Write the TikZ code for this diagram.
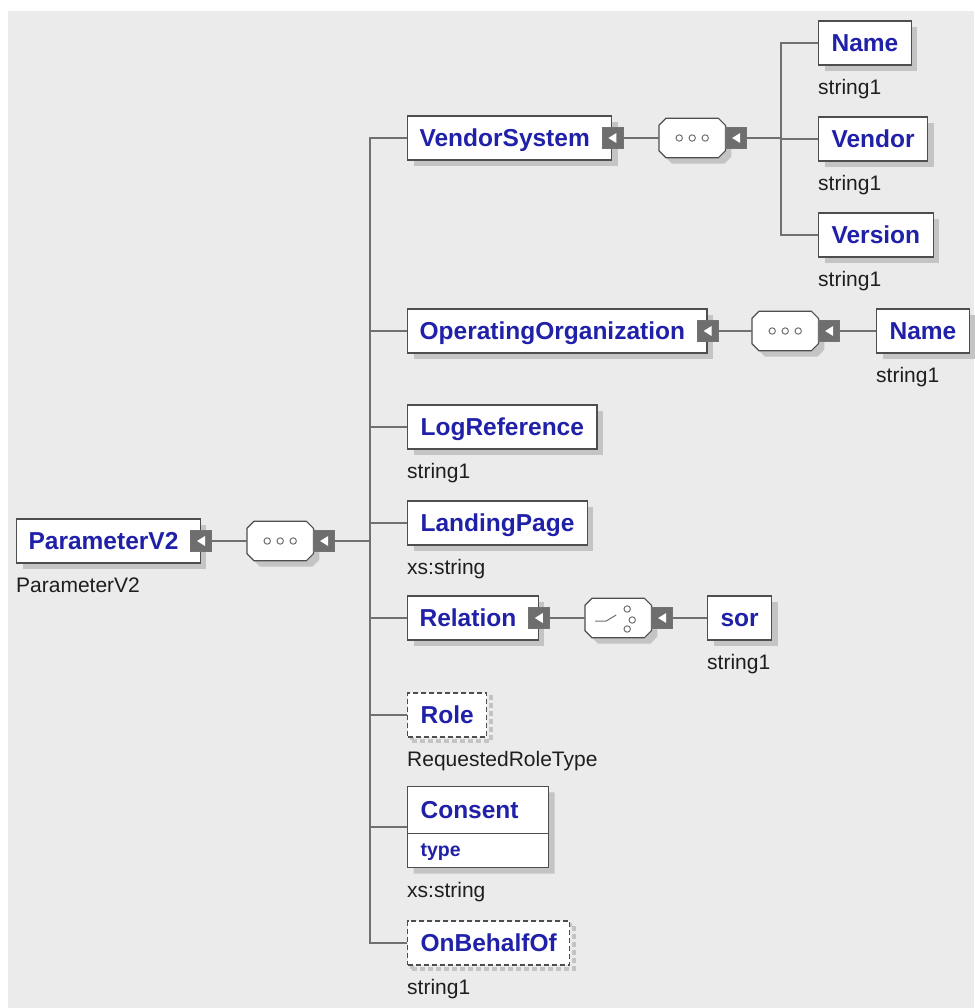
\documentclass[tikz,border=0pt]{standalone}
\usepackage{fontspec}
\setmainfont{Liberation Sans}
\usetikzlibrary{shapes.multipart,shadows}
\definecolor{elblue}{RGB}{32,32,168}
\definecolor{bggray}{RGB}{235,235,235}
\definecolor{edgegray}{RGB}{78,78,78}
\definecolor{linegray}{RGB}{112,112,112}
\definecolor{btngray}{RGB}{110,110,110}
\definecolor{shadowgray}{RGB}{196,196,196}
\definecolor{subgray}{RGB}{30,30,30}
\newcommand\octpath[3]{([shift={(#2+7pt,#3)}]#1.north west) -- ([shift={(#2-7pt,#3)}]#1.north east) -- ([shift={(#2,#3-7pt)}]#1.north east) -- ([shift={(#2,#3+7pt)}]#1.south east) -- ([shift={(#2-7pt,#3)}]#1.south east) -- ([shift={(#2+7pt,#3)}]#1.south west) -- ([shift={(#2,#3+7pt)}]#1.south west) -- ([shift={(#2,#3-7pt)}]#1.north west) -- cycle}
\newcommand\compframe[1]{\fill[shadowgray] \octpath{#1}{6pt}{-6pt}; \draw[edgegray, line width=1.2pt, fill=white] \octpath{#1}{0pt}{0pt};}
\newcommand\seqmark[1]{\compframe{#1}\foreach \dx in {-13,0,13} \draw[linegray, line width=1pt] ([xshift=\dx pt]#1.center) circle (3.2pt);}
\newcommand\choicemark[1]{\compframe{#1}\draw[linegray, line width=1pt] ([shift={(-23pt,-3pt)}]#1.center) -- ([shift={(-12pt,-3pt)}]#1.center) -- ([shift={(-2pt,3pt)}]#1.center);
  \foreach \p in {{(9pt,9pt)},{(14pt,-2pt)},{(9pt,-11pt)}} \draw[linegray, line width=1pt] ([shift=\p]#1.center) circle (3.2pt);}
\begin{document}
\begin{tikzpicture}[x=1pt, y=-1pt,
  elbase/.style={rectangle, draw=edgegray, line width=1.2pt, fill=white, anchor=west, inner ysep=0pt, text=elblue, font=\bfseries\fontsize{24.5}{28}\selectfont},
  elem/.style={elbase, minimum height=44pt, inner xsep=13pt, text height=17.5pt, text depth=0pt, drop shadow={shadow xshift=6pt, shadow yshift=-6pt, fill=shadowgray, opacity=1}},
  elemx/.style={elem, inner xsep=12pt, execute at end node={\kern10pt}},
  optelem/.style={elbase, minimum height=44pt, inner xsep=13pt, text height=17.5pt, text depth=0pt, dash pattern=on 5pt off 3pt, drop shadow={shadow xshift=4pt, shadow yshift=-4pt, fill=none, draw=shadowgray, line width=4pt, dash pattern=on 5pt off 3pt, opacity=1}},
  sub/.style={anchor=north west, inner sep=0pt, text height=15pt, text depth=4pt, text=subgray, font=\fontsize{21}{24}\selectfont},
  comp/.style={rectangle, minimum width=66pt, minimum height=39pt, inner sep=0pt, anchor=west},
  btn/.style={rectangle, fill=btngray, draw=black!55, line width=0.5pt, minimum size=21pt, inner sep=0pt, path picture={\fill[white] ([xshift=-4pt]path picture bounding box.center) -- ([shift={(4pt,5pt)}]path picture bounding box.center) -- ([shift={(4pt,-5pt)}]path picture bounding box.center) -- cycle;}},
  conn/.style={draw=linegray, line width=1.6pt}]
\fill[white] (0,0) rectangle (974,1008);
\fill[bggray] (8,11) rectangle (974,1008);
\useasboundingbox (0,0) rectangle (974,1008);

\node[elemx] (p0) at (16,541) {ParameterV2};
\node[btn] (p0x) at (p0.east) {};
\node[sub] (p0t) at ([yshift=-14pt]p0.south west) {ParameterV2};
\node[comp] (s0) at (247,541) {};
\seqmark{s0}
\node[btn, anchor=west] (s0x) at (s0.east) {};
\coordinate (j0) at (370,541);
\draw[conn] (p0x) -- (s0);
\draw[conn] (s0x) -- (j0);

\node[elemx] (c1) at (407,138) {VendorSystem};
\node[btn] (c1x) at (c1.east) {};
\node[comp] (s1) at (659,138) {};
\seqmark{s1}
\node[btn, anchor=west] (s1x) at (s1.east) {};
\coordinate (j1) at (781,138);
\draw[conn] (c1x) -- (s1);
\draw[conn] (s1x) -- (j1);
\node[elem] (c1a) at (818,43) {Name};
\node[sub] (c1at) at ([yshift=-14pt]c1a.south west) {string1};
\node[elem] (c1b) at (818,139) {Vendor};
\node[sub] (c1bt) at ([yshift=-14pt]c1b.south west) {string1};
\node[elem] (c1c) at (818,235) {Version};
\node[sub] (c1ct) at ([yshift=-14pt]c1c.south west) {string1};
\foreach \n in {c1a,c1b,c1c} \draw[conn] (j1) |- (\n.west);

\node[elemx] (c2) at (407,331) {OperatingOrganization};
\node[btn] (c2x) at (c2.east) {};
\node[comp] (s2) at (752,331) {};
\seqmark{s2}
\node[btn, anchor=west] (s2x) at (s2.east) {};
\node[elem] (c2a) at (876,331) {Name};
\node[sub] (c2at) at ([yshift=-14pt]c2a.south west) {string1};
\draw[conn] (c2x) -- (s2);
\draw[conn] (s2x) -- (c2a);

\node[elem] (c3) at (407,427) {LogReference};
\node[sub] (c3t) at ([yshift=-14pt]c3.south west) {string1};
\node[elem] (c4) at (407,523) {LandingPage};
\node[sub] (c4t) at ([yshift=-14pt]c4.south west) {xs:string};

\node[elemx] (c5) at (407,618) {Relation};
\node[btn] (c5x) at (c5.east) {};
\node[comp] (h5) at (585,618) {};
\choicemark{h5}
\node[btn, anchor=west] (h5x) at (h5.east) {};
\node[elem] (c5a) at (707,618) {sor};
\node[sub] (c5at) at ([yshift=-14pt]c5a.south west) {string1};
\draw[conn] (c5x) -- (h5);
\draw[conn] (h5x) -- (c5a);

\node[optelem] (c6) at (407,715) {Role};
\node[sub] (c6t) at ([yshift=-14pt]c6.south west) {RequestedRoleType};
\node[elbase, rectangle split, rectangle split parts=2, text width=115pt, align=left, inner xsep=13pt, drop shadow={shadow xshift=6pt, shadow yshift=-6pt, fill=shadowgray, opacity=1}] (c7) at (407,827) {\rule[-14.25pt]{0pt}{46pt}Consent\nodepart{two}\fontsize{19.5}{22}\selectfont\rule[-11pt]{0pt}{33pt}type};
\node[sub] (c7t) at ([yshift=-14pt]c7.south west) {xs:string};
\node[optelem] (c8) at (407,943) {OnBehalfOf};
\node[sub] (c8t) at ([yshift=-14pt]c8.south west) {string1};

\foreach \n in {c1,c2,c3,c4,c5,c6,c7,c8} \draw[conn] (j0) |- (\n.west);
\end{tikzpicture}
\end{document}
